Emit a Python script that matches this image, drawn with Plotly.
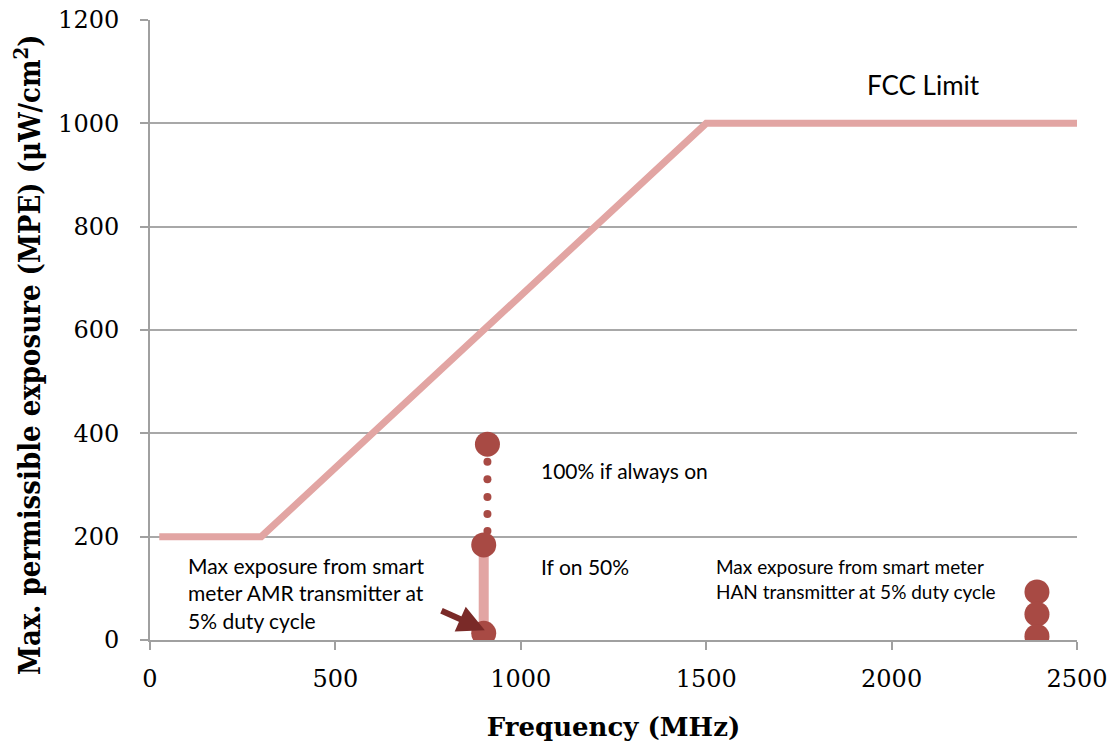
import plotly.graph_objects as go

# FCC limit curve
fcc_freq = [25, 300, 1500, 2500]
fcc_mpe = [200, 200, 1000, 1000]

# AMR transmitter (900 MHz)
amr_big_freq = [910, 900, 900]
amr_big_mpe = [379, 184, 13]
amr_dots_freq = [910, 910, 910, 910, 910]
amr_dots_mpe = [345, 311, 277, 244, 211]
amr_bar_freq = [900, 900]
amr_bar_mpe = [184, 13]

# HAN transmitter (2400 MHz)
han_freq = [2392, 2392, 2392]
han_mpe = [93, 50, 7]

x_ticks = [0, 500, 1000, 1500, 2000, 2500]
y_ticks = [0, 200, 400, 600, 800, 1000, 1200]

line_col = "#e2a5a3"
mark_col = "#a84a44"
sans = "Lato, Open Sans, sans-serif"
serif = "DejaVu Serif, Liberation Serif, serif"

fig = go.Figure()
fig.add_trace(go.Scatter(x=fcc_freq, y=fcc_mpe, mode="lines",
                         line=dict(color=line_col, width=7), hoverinfo="skip"))
fig.add_trace(go.Scatter(x=amr_bar_freq, y=amr_bar_mpe, mode="lines",
                         line=dict(color=line_col, width=10), hoverinfo="skip"))
fig.add_trace(go.Scatter(x=amr_dots_freq, y=amr_dots_mpe, mode="markers",
                         marker=dict(color=mark_col, size=8), hoverinfo="skip"))
fig.add_trace(go.Scatter(x=amr_big_freq, y=amr_big_mpe, mode="markers",
                         marker=dict(color=mark_col, size=25), hoverinfo="skip"))
fig.add_trace(go.Scatter(x=han_freq, y=han_mpe, mode="markers",
                         marker=dict(color=mark_col, size=25), hoverinfo="skip"))

fig.add_annotation(x=903, y=19, ax=782, ay=58, axref="x", ayref="y",
                   showarrow=True, arrowhead=2, arrowsize=0.9, arrowwidth=6,
                   arrowcolor="#7a2a28", text="")

annos = [
    (2085, 1074, "FCC Limit", 26, "center"),
    (1048, 329, "100% if always on", 21, "left"),
    (1048, 143, "If on 50%", 21, "left"),
    (96, 91, "Max exposure from smart<br>meter AMR transmitter at<br>5% duty cycle", 21, "left"),
    (1520, 118, "Max exposure from smart meter<br>HAN transmitter at 5% duty cycle", 19, "left"),
]
for x, y, t, s, al in annos:
    fig.add_annotation(x=x, y=y, text=t, showarrow=False, xanchor=al,
                       align=al, font=dict(family=sans, size=s, color="black"))

# y-axis title (placed as rotated text so its position matches the original)
fig.add_annotation(xref="paper", yref="paper", x=-0.1316, y=0.4597,
                   xanchor="center", yanchor="middle", textangle=-90,
                   showarrow=False,
                   text="<b>Max. permissible exposure (MPE) (μW/cm<sup>2</sup>)</b>",
                   font=dict(family="DejaVu Serif Condensed, Liberation Serif, serif",
                             size=29, color="black"))

fig.update_layout(
    width=1113, height=744,
    margin=dict(l=150, r=36, t=20, b=104),
    paper_bgcolor="white", plot_bgcolor="white",
    showlegend=False,
)
fig.update_xaxes(range=[0, 2500], tickvals=x_ticks, showgrid=False,
                 showline=True, linecolor="#a0a0a0", linewidth=2,
                 ticks="outside", ticklen=8, tickcolor="#a0a0a0", tickwidth=2,
                 ticklabelstandoff=8, automargin=False, ticklabeloverflow="allow",
                 tickfont=dict(family=serif, size=24, color="black"),
                 title=dict(text="<b>Frequency (MHz)</b>", standoff=26,
                            font=dict(family=serif, size=26, color="black")),
                 zeroline=False)
fig.update_yaxes(range=[0, 1200], tickvals=y_ticks, showgrid=True,
                 gridcolor="#a8a8a8", gridwidth=1.5,
                 showline=True, linecolor="#a0a0a0", linewidth=2,
                 ticks="outside", ticklen=8, tickcolor="#a0a0a0", tickwidth=2,
                 ticklabelstandoff=16, automargin=False, ticklabeloverflow="allow",
                 tickfont=dict(family=serif, size=24, color="black"),
                 zeroline=False)

fig.write_html("out.html", config={"displayModeBar": False},
               post_script="document.body.style.margin='0px';"
                           "document.body.style.overflow='hidden';")
